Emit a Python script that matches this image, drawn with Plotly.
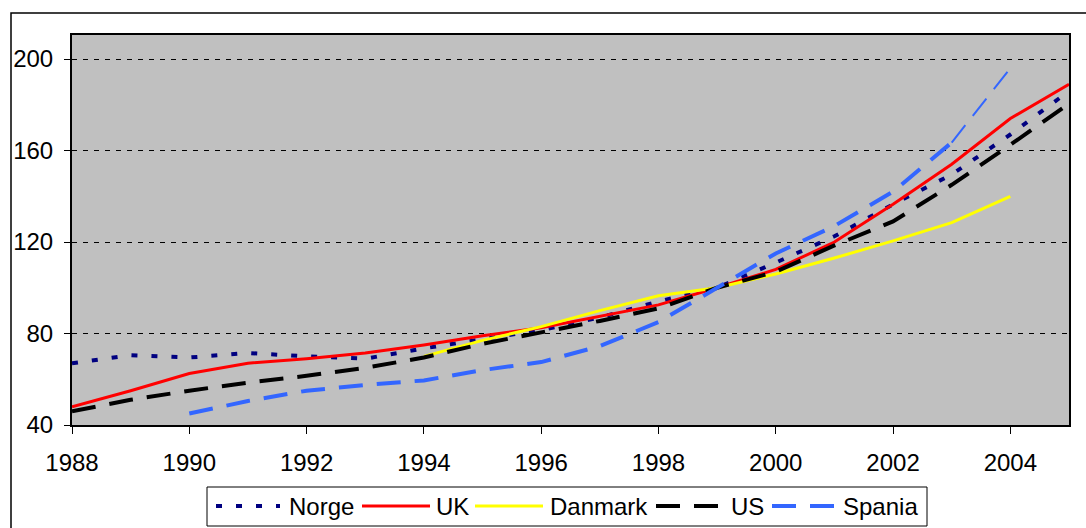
import plotly.graph_objects as go

# House price index by country, 1988-2005
years = list(range(1988, 2006))

norge = [67, 70.5, 69.5, 71.5, 70, 69, 73.5, 77.5, 81.5, 87, 94, 100, 111, 122.5, 136.5, 149.5, 167, 186]
uk = [48, 55, 62.5, 67, 69, 71.5, 75, 79, 82.5, 87.5, 92.5, 100, 108, 120, 136.5, 154, 174, 189]
danmark = [None] * 6 + [70, 77, 83, 90, 96.5, 100, 106, 113, 120.5, 128.5, 140, None]
us = [46, 51, 55, 58.5, 61.5, 65, 69.5, 75.5, 80.5, 85.5, 91, 100, 107, 118.5, 129, 145, 162.5, 180.5]
spania = [None, None, 45, 50.5, 55, 57.5, 59.5, 64, 67.5, 74.5, 85, 100, 115, 127, 142, 163.5, 196, None]

series = [
    ("Norge", norge, dict(color="#000080", width=4, dash="6px,14px")),
    ("UK", uk, dict(color="#FF0000", width=3)),
    ("Danmark", danmark, dict(color="#FFFF00", width=3)),
    ("US", us, dict(color="#000000", width=4, dash="24px,14px")),
    ("Spania", spania, dict(color="#3366FF", width=4, dash="24px,14px")),
]

W, H = 1086, 528
L, R, T, B = 72, 17, 35, 103
PW, PH = W - L - R, H - T - B


def px_x(px):
    return (px - L) / PW


def px_y(py):
    return (H - B - py) / PH


fig = go.Figure()
for name, vals, line in series:
    if name == "Spania":
        # the last stretch of the Spanish series is drawn with a thinner pen
        split = years.index(2003) + 1
        fig.add_trace(go.Scatter(x=years[:split], y=vals[:split], name=name,
                                 mode="lines", line=line, showlegend=False))
        fig.add_trace(go.Scatter(x=years[split - 1:], y=vals[split - 1:], name=name,
                                 mode="lines", showlegend=False,
                                 line=dict(line, width=2, dash="22px,12px")))
    else:
        fig.add_trace(go.Scatter(x=years, y=vals, name=name, mode="lines",
                                 line=line, showlegend=False))

font = dict(family="Liberation Sans, Arial, sans-serif", size=24, color="#000000")

# legend box with line samples and labels
legend_pos = {
    "Norge": (216, 280, 287),
    "UK": (362, 430, 434),
    "Danmark": (475, 543, 548),
    "US": (656, 722, 729),
    "Spania": (772, 836, 841),
}
legend_y = 506
shapes = [
    dict(type="rect", xref="paper", yref="paper",
         x0=px_x(11), x1=px_x(1100), y0=px_y(560), y1=px_y(13),
         line=dict(color="#000000", width=1.5), fillcolor="rgba(0,0,0,0)", layer="below"),
    dict(type="rect", xref="paper", yref="paper",
         x0=px_x(207), x1=px_x(927), y0=px_y(526), y1=px_y(487),
         line=dict(color="#000000", width=1), fillcolor="#FFFFFF"),
]
annotations = []
for name, vals, line in series:
    x0, x1, tx = legend_pos[name]
    shapes.append(dict(type="line", xref="paper", yref="paper",
                       x0=px_x(x0), x1=px_x(x1), y0=px_y(legend_y), y1=px_y(legend_y),
                       line=line))
    annotations.append(dict(text=name, xref="paper", yref="paper",
                            x=px_x(tx), y=px_y(legend_y), xanchor="left", yanchor="middle",
                            showarrow=False, font=font))

fig.update_layout(
    width=W,
    height=H,
    margin=dict(l=L, r=R, t=T, b=B, autoexpand=False),
    paper_bgcolor="#FFFFFF",
    plot_bgcolor="#C0C0C0",
    font=font,
    showlegend=False,
    xaxis=dict(
        range=[1988, 2005],
        tickmode="linear",
        tick0=1988,
        dtick=2,
        showgrid=False,
        zeroline=False,
        showline=True,
        linecolor="#000000",
        linewidth=2,
        mirror=True,
        ticks="outside",
        ticklen=7,
        tickcolor="#000000",
        tickwidth=1,
        ticklabelstandoff=8,
    ),
    yaxis=dict(
        range=[40, 210.5],
        tickmode="linear",
        tick0=40,
        dtick=40,
        showgrid=True,
        gridcolor="#000000",
        gridwidth=1,
        griddash="5px,6px",
        zeroline=False,
        showline=True,
        linecolor="#000000",
        linewidth=2,
        mirror=True,
        ticks="outside",
        ticklen=6,
        tickcolor="#000000",
        tickwidth=1,
        ticklabelstandoff=6,
    ),
    shapes=shapes,
    annotations=annotations,
)

fig.write_html("out.html")
